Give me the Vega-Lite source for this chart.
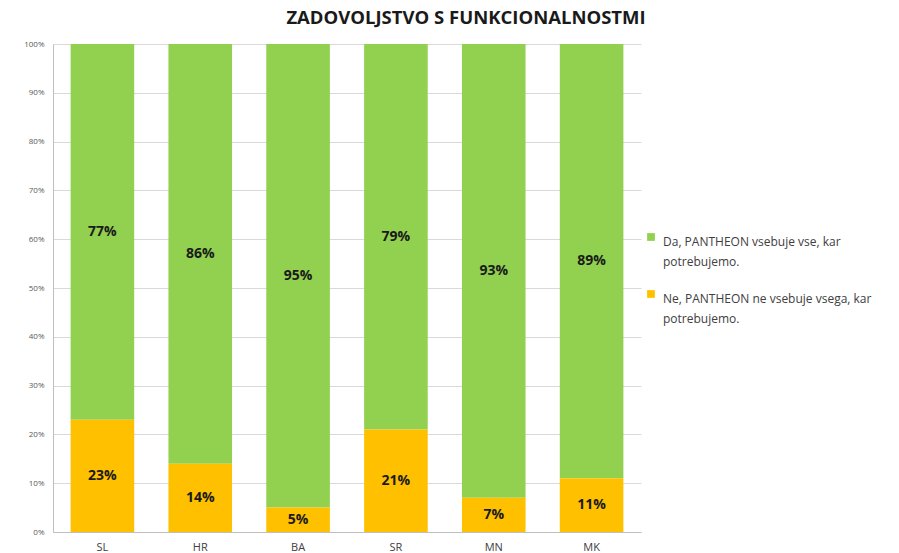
{
  "$schema": "https://vega.github.io/schema/vega-lite/v6.json",
  "width": 588,
  "height": 488,
  "autosize": {"type": "none"},
  "padding": {"left": 53, "top": 44, "right": 258, "bottom": 21},
  "background": "white",
  "config": {
    "font": "Open Sans",
    "view": {"stroke": null}
  },
  "title": {
    "text": "ZADOVOLJSTVO S FUNKCIONALNOSTMI",
    "fontSize": 18.5,
    "fontWeight": "bold",
    "color": "#1a1a1a",
    "anchor": "middle",
    "dx": 119,
    "offset": 13
  },
  "data": {
    "values": [
      {"country": "SL", "answer": "Da, PANTHEON vsebuje vse, kar potrebujemo.", "value": 0.77, "o": 2},
      {"country": "SL", "answer": "Ne, PANTHEON ne vsebuje vsega, kar potrebujemo.", "value": 0.23, "o": 1},
      {"country": "HR", "answer": "Da, PANTHEON vsebuje vse, kar potrebujemo.", "value": 0.86, "o": 2},
      {"country": "HR", "answer": "Ne, PANTHEON ne vsebuje vsega, kar potrebujemo.", "value": 0.14, "o": 1},
      {"country": "BA", "answer": "Da, PANTHEON vsebuje vse, kar potrebujemo.", "value": 0.95, "o": 2},
      {"country": "BA", "answer": "Ne, PANTHEON ne vsebuje vsega, kar potrebujemo.", "value": 0.05, "o": 1},
      {"country": "SR", "answer": "Da, PANTHEON vsebuje vse, kar potrebujemo.", "value": 0.79, "o": 2},
      {"country": "SR", "answer": "Ne, PANTHEON ne vsebuje vsega, kar potrebujemo.", "value": 0.21, "o": 1},
      {"country": "MN", "answer": "Da, PANTHEON vsebuje vse, kar potrebujemo.", "value": 0.93, "o": 2},
      {"country": "MN", "answer": "Ne, PANTHEON ne vsebuje vsega, kar potrebujemo.", "value": 0.07, "o": 1},
      {"country": "MK", "answer": "Da, PANTHEON vsebuje vse, kar potrebujemo.", "value": 0.89, "o": 2},
      {"country": "MK", "answer": "Ne, PANTHEON ne vsebuje vsega, kar potrebujemo.", "value": 0.11, "o": 1}
    ]
  },
  "transform": [
    {"stack": "value", "groupby": ["country"], "sort": [{"field": "o", "order": "ascending"}], "as": ["y0", "y1"]},
    {"calculate": "(datum.y0 + datum.y1) / 2", "as": "mid"}
  ],
  "encoding": {
    "x": {
      "field": "country",
      "type": "nominal",
      "sort": ["SL", "HR", "BA", "SR", "MN", "MK"],
      "scale": {"paddingInner": 0.35, "paddingOuter": 0.18},
      "axis": {
        "title": null,
        "labelAngle": 0,
        "labelFontSize": 11,
        "labelColor": "#404040",
        "labelPadding": 9,
        "ticks": false,
        "domainColor": "#bfbfbf"
      }
    }
  },
  "layer": [
    {
      "mark": {"type": "bar"},
      "encoding": {
        "y": {
          "field": "y0",
          "type": "quantitative",
          "scale": {"domain": [0, 1]},
          "axis": {
            "title": null,
            "format": ".0%",
            "values": [0, 0.1, 0.2, 0.3, 0.4, 0.5, 0.6, 0.7, 0.8, 0.9, 1],
            "labelOverlap": false,
            "labelFontSize": 8,
            "labelColor": "#595959",
            "labelPadding": 9,
            "ticks": false,
            "gridColor": "#d9d9d9",
            "domainColor": "#bfbfbf"
          }
        },
        "y2": {"field": "y1"},
        "color": {
          "field": "answer",
          "type": "nominal",
          "scale": {
            "domain": ["Da, PANTHEON vsebuje vse, kar potrebujemo.", "Ne, PANTHEON ne vsebuje vsega, kar potrebujemo."],
            "range": ["#92D050", "#FFC000"]
          },
          "legend": {
            "title": null,
            "orient": "none",
            "legendX": 592,
            "legendY": 187,
            "symbolType": "square",
            "symbolSize": 60,
            "symbolStrokeWidth": 0,
            "labelFontSize": 12,
            "labelColor": "#404040",
            "labelLimit": 300,
            "rowPadding": 20,
            "labelExpr": "split(replace(datum.label, ', kar ', ', kar|'), '|')",
            "labelBaseline": "top",
            "labelOffset": 6,
            "encode": {"labels": {"update": {"lineHeight": {"value": 20}}}}
          }
        }
      }
    },
    {
      "mark": {"type": "text", "fontWeight": "bold", "fontSize": 14, "color": "#1a1a1a"},
      "encoding": {
        "y": {"field": "mid", "type": "quantitative"},
        "text": {"field": "value", "type": "quantitative", "format": ".0%"}
      }
    }
  ]
}
